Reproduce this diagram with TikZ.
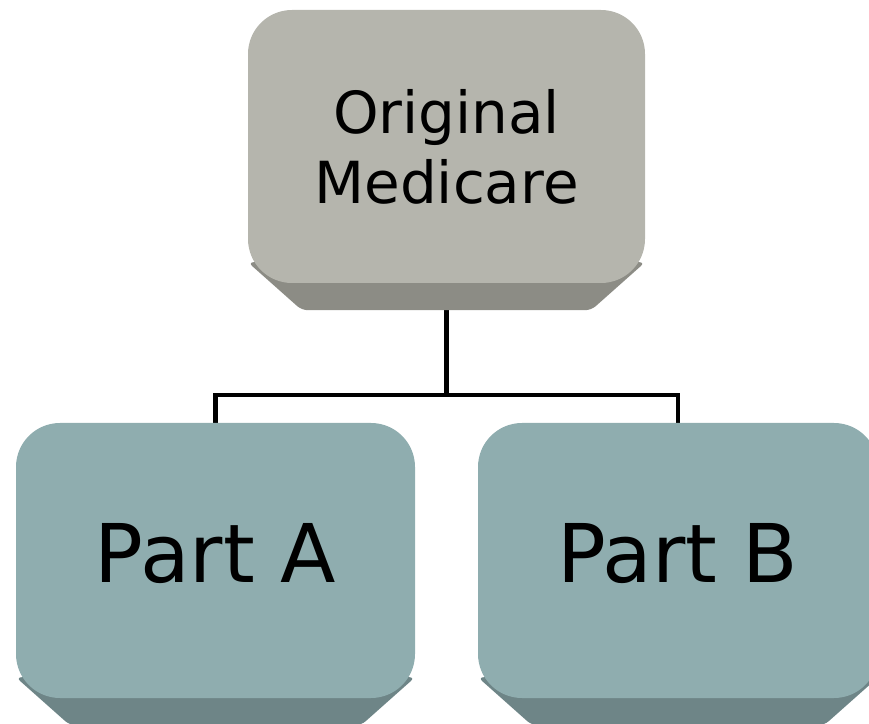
\documentclass[tikz,border=0pt]{standalone}
\usepackage{fontspec}
\setmainfont{DejaVu Sans}
\usetikzlibrary{calc}
\usetikzlibrary{backgrounds}

\definecolor{greyFace}{RGB}{181,181,173}
\definecolor{greyBevel}{RGB}{140,140,133}
\definecolor{tealFace}{RGB}{143,173,175}
\definecolor{tealBevel}{RGB}{110,133,135}

\tikzset{
	face/.style = {rounded corners = 44pt, inner sep = 0pt, text = black, align = center},
	link/.style = {line width = 4.5pt, black},
}

% bevel under a box: #1 node, #2 colour
\newcommand{\bevelUnder}[2]{%
	\fill [#2, rounded corners = 6pt] ($(#1.south west) + (0,21)$) -- ($(#1.south west) + (54,-27)$) -- ($(#1.south east) + (-54,-27)$) -- ($(#1.south east) + (0,21)$) -- cycle;%
}

\begin{document}
\begin{tikzpicture}[x=1pt, y=1pt]

	% page
	\clip (0,0) rectangle (869,723);

	% top box
	\node [face, fill = greyFace, minimum width = 397pt, minimum height = 273pt, font = \fontsize{58}{70}\selectfont] (orig) at (446.5,576.5) {Original\\Medicare};

	% two parts
	\node [face, fill = tealFace, minimum width = 399pt, minimum height = 275pt, text depth = 16pt, font = \fontsize{81}{90}\selectfont] (partA) at (215.5,162.5) {Part A};
	\node [face, fill = tealFace, minimum width = 400pt, minimum height = 275pt, text depth = 16pt, font = \fontsize{81}{90}\selectfont] (partB) at (678,162.5) {Part B};

	\begin{scope}[on background layer]
		% connectors
		\draw [link] (orig.south) -- ++(0,-112) coordinate (fork);
		\draw [link] (fork) -| (partA.north);
		\draw [link] (fork) -| (partB.north);
		% bevels
		\bevelUnder{orig}{greyBevel}
		\bevelUnder{partA}{tealBevel}
		\bevelUnder{partB}{tealBevel}
	\end{scope}

\end{tikzpicture}
\end{document}
